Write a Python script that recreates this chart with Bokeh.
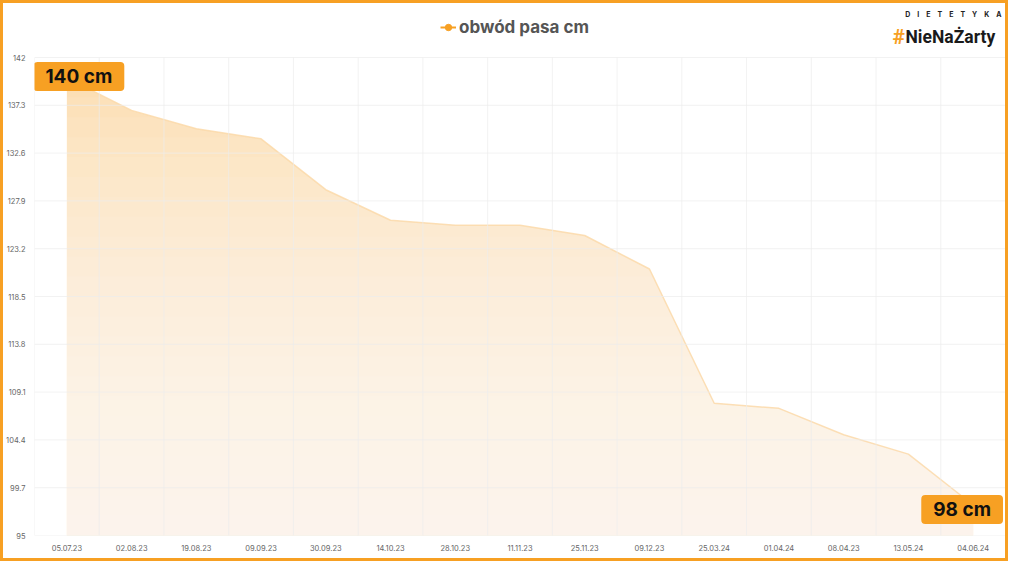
from bokeh.plotting import figure
from bokeh.models import (FactorRange, Range1d, FixedTicker, Legend, LegendItem, Label)
from bokeh.embed import file_html
from bokeh.resources import INLINE

dates = ["05.07.23", "02.08.23", "19.08.23", "09.09.23", "30.09.23", "14.10.23",
         "28.10.23", "11.11.23", "25.11.23", "09.12.23", "25.03.24", "01.04.24",
         "08.04.23", "13.05.24", "04.06.24"]
waist = [140.0, 136.8, 135.0, 134.0, 129.0, 126.0, 125.5, 125.5, 124.5, 121.2,
         108.0, 107.5, 104.9, 103.0, 98.0]
y_ticks = [95, 99.7, 104.4, 109.1, 113.8, 118.5, 123.2, 127.9, 132.6, 137.3, 142]
series_name = "obwód pasa cm"

ORANGE = "#F7A023"
FONT = "Inter"
LOGO_FONT = "Roboto"

W, H = 1008, 561                   # includes the 3px CSS border (border-box)
LEFT, RIGHT = 28, 6
TOP_PX, PLOT_PX = 54, 478          # header band above the value area, value area height
ymin, ymax = y_ticks[0], y_ticks[-1]
y_top = ymax + (ymax - ymin) * TOP_PX / PLOT_PX
n = len(dates)

p = figure(width=W, height=H, x_range=FactorRange(*dates, range_padding=0),
           y_range=Range1d(ymin, y_top), output_backend="svg", toolbar_location=None,
           min_border_left=LEFT, min_border_right=RIGHT, min_border_top=0,
           min_border_bottom=H - TOP_PX - PLOT_PX,
           background_fill_color="white", border_fill_color="white",
           outline_line_color=None)
p.styles = {"border": "3px solid " + ORANGE}

# area: solid top colour, lightened towards the bottom by white translucent bands
p.varea(x=dates, y1=[ymin] * n, y2=waist, fill_color="#FCDDB0", fill_alpha=1)
NB = 24
for k in range(1, NB):
    lvl = ymin + (ymax - ymin) * k / NB
    p.quad(left=0, right=n, bottom=ymin, top=lvl, fill_color="white", fill_alpha=0.075,
           line_color=None)
p.line(x=dates, y=waist, line_color="#FBD8A6", line_width=1.5, line_alpha=0.8)

# grid lines (value area only), drawn over the area faintly
bx = list(range(0, n + 1))
p.segment(x0=bx, y0=[ymin] * (n + 1), x1=bx, y1=[ymax] * (n + 1),
          line_color="#EDEDED", line_width=1, line_alpha=0.7)
p.segment(x0=[0] * len(y_ticks), y0=y_ticks, x1=[n] * len(y_ticks), y1=y_ticks,
          line_color="#EDEDED", line_width=1, line_alpha=0.7)
p.xgrid.grid_line_color = None
p.ygrid.grid_line_color = None

# axes
p.yaxis.ticker = FixedTicker(ticks=y_ticks)
for ax in (p.xaxis[0], p.yaxis[0]):
    ax.axis_line_color = None
    ax.major_tick_line_color = None
    ax.minor_tick_line_color = None
    ax.major_label_text_font = FONT
    ax.major_label_text_font_size = "7.5px"
    ax.major_label_text_color = "#666666"
p.yaxis.major_label_standoff = 3
p.xaxis.major_label_standoff = 3

# legend acting as the title (series marker renderers hidden, legend shows them undimmed)
r_line = p.line(x=dates, y=waist, line_color=ORANGE, line_width=2, visible=False)
r_dot = p.scatter(x=dates, y=waist, marker="circle", size=6, fill_color=ORANGE,
                  line_color=ORANGE, visible=False)
legend = Legend(items=[LegendItem(label=series_name, renderers=[r_line, r_dot])],
                location=(406, 498), orientation="horizontal",
                padding=0, margin=0, spacing=0, label_standoff=3,
                glyph_width=16, glyph_height=16,
                background_fill_alpha=0, border_line_alpha=0,
                inactive_fill_alpha=0,
                label_text_font=FONT, label_text_font_style="bold",
                label_text_font_size="17px", label_text_color="#555555")
p.add_layout(legend, "center")

# value badges (categorical synthetic coordinates: factor i centre = i + 0.5)
badge = dict(text_align="center", text_baseline="middle", text_font=FONT,
             text_font_style="bold", text_font_size="19px", text_color="#111111",
             background_fill_color=ORANGE, border_radius=4, padding=(12, 3))
p.add_layout(Label(x=0 + 0.5, y=waist[0], text=f"{waist[0]:.0f} cm",
                   x_offset=12, y_offset=1.3, **badge))
p.add_layout(Label(x=n - 0.5, y=waist[-1], text=f"{waist[-1]:.0f} cm",
                   x_offset=-11, y_offset=-4.5, **badge))

# logo (screen units, relative to the frame's bottom-left corner)
frame_w = W - LEFT - RIGHT
frame_h = TOP_PX + PLOT_PX
p.add_layout(Label(x=frame_w - 7, y=frame_h - 11, x_units="screen", y_units="screen",
                   text="\u2003".join("DIETETYKA"),
                   text_align="right", text_baseline="middle", text_font=FONT,
                   text_font_style="bold", text_font_size="7px", text_color="#222222"))
p.add_layout(Label(x=frame_w - 116, y=frame_h - 33, x_units="screen", y_units="screen",
                   text="#", text_align="left", text_baseline="middle", text_font=LOGO_FONT,
                   text_font_style="bold", text_font_size="21px", text_color=ORANGE))
p.add_layout(Label(x=frame_w - 103, y=frame_h - 33, x_units="screen", y_units="screen",
                   text="NieNaŻarty", text_align="left", text_baseline="middle",
                   text_font=LOGO_FONT, text_font_style="bold", text_font_size="17.5px",
                   text_color="#1A1A1A"))

open("out.html", "w").write(file_html(p, INLINE))
